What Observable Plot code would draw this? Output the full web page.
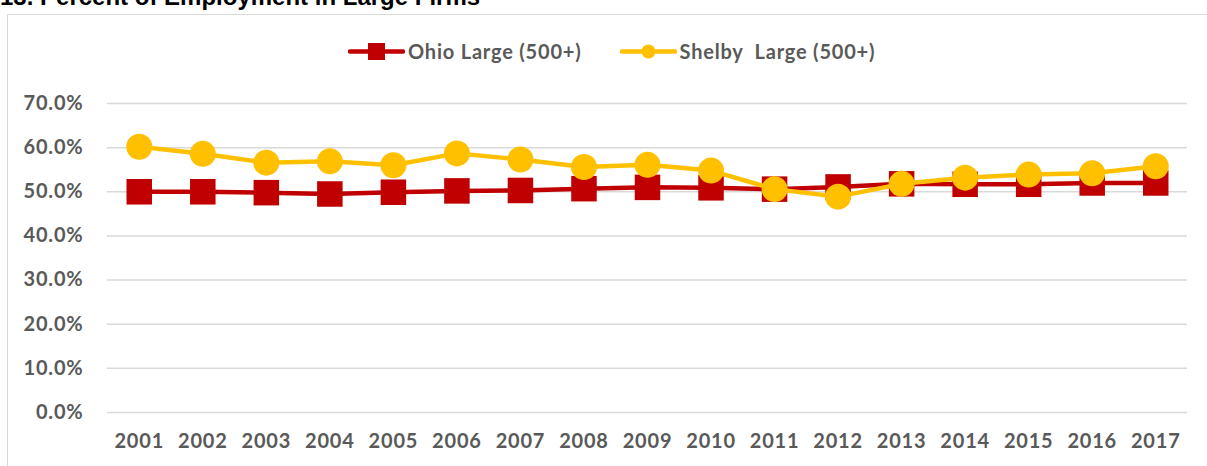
<!DOCTYPE html>
<html>
<head>
<meta charset="utf-8">
<script src="https://cdn.jsdelivr.net/npm/d3@7"></script>
<script src="https://cdn.jsdelivr.net/npm/@observablehq/plot@0.6"></script>
<style>
  html, body { margin: 0; padding: 0; background: #fff; overflow: hidden; }
  body { width: 1207px; height: 466px; position: relative; font-family: Lato, sans-serif; }
  #title { position: absolute; left: 0; top: -15px; font: bold 24px "Liberation Sans", Arial, sans-serif; line-height: 24px; color: #000; white-space: nowrap; }
  #frame { position: absolute; left: 7px; top: 14px; width: 1210px; height: 470px; border: 1px solid #d9d9d9; box-sizing: border-box; }
  #legend { position: absolute; top: 39px; left: 348px; display: flex; align-items: center; font: bold 20px Lato, sans-serif; letter-spacing: 0.8px; color: #595959; white-space: pre; }
  #legend .item { display: flex; align-items: center; }
  #legend svg { display: block; }
  #chart { position: absolute; left: 0; top: 0; }
  #chart text { letter-spacing: 0.8px; }
</style>
</head>
<body>
<div id="title">13. Percent of Employment in Large Firms</div>
<div id="frame"></div>
<div id="chart"></div>
<div id="legend"></div>
<script>
const years = [2001, 2002, 2003, 2004, 2005, 2006, 2007, 2008, 2009, 2010, 2011, 2012, 2013, 2014, 2015, 2016, 2017];
const ohioLarge = [50.0, 50.0, 49.8, 49.5, 49.9, 50.2, 50.3, 50.7, 51.0, 50.9, 50.6, 51.1, 51.8, 51.7, 51.7, 52.0, 52.0];
const shelbyLarge = [60.2, 58.6, 56.6, 56.9, 56.0, 58.7, 57.3, 55.6, 56.1, 54.8, 50.6, 48.9, 51.8, 53.2, 53.9, 54.2, 55.8];
const seriesNames = ["Ohio Large (500+)", "Shelby  Large (500+)"];
const seriesColors = ["#C00000", "#FFC000"];
const yTicks = [0, 10, 20, 30, 40, 50, 60, 70];

const ohio = years.map((y, i) => ({year: String(y), value: ohioLarge[i] / 100}));
const shelby = years.map((y, i) => ({year: String(y), value: shelbyLarge[i] / 100}));

const chart = Plot.plot({
  width: 1207,
  height: 466,
  marginLeft: 107,
  marginRight: 20,
  marginTop: 103,
  marginBottom: 54,
  style: {fontFamily: "Lato, sans-serif", fontWeight: "bold", fontSize: "20px", color: "#595959", background: "transparent", overflow: "visible"},
  x: {type: "point", domain: years.map(String), padding: 0.5, round: false, label: null},
  y: {domain: [0, 0.7], label: null},
  marks: [
    Plot.ruleY(yTicks.map(d => d / 100), {stroke: "#d9d9d9", strokeWidth: 1.5}),
    Plot.axisY(yTicks.map(d => d / 100), {tickSize: 0, tickPadding: 24, tickFormat: d => (d * 100).toFixed(1) + "%", label: null, fill: "#595959"}),
    Plot.axisX({tickSize: 0, tickPadding: 21, label: null, fill: "#595959"}),
    Plot.line(ohio, {x: "year", y: "value", stroke: seriesColors[0], strokeWidth: 4.5}),
    Plot.dot(ohio, {x: "year", y: "value", symbol: "square", r: 14.4, fill: seriesColors[0]}),
    Plot.line(shelby, {x: "year", y: "value", stroke: seriesColors[1], strokeWidth: 4.5}),
    Plot.dot(shelby, {x: "year", y: "value", symbol: "circle", r: 13, fill: seriesColors[1]})
  ]
});
document.getElementById("chart").appendChild(chart);

// Legend
const legend = document.getElementById("legend");
seriesNames.forEach((name, i) => {
  const item = document.createElement("div");
  item.className = "item";
  if (i > 0) item.style.marginLeft = "38px";
  const marker = i === 0
    ? `<rect x="20" y="1" width="17" height="17" fill="${seriesColors[i]}"/>`
    : `<circle cx="28.5" cy="9.5" r="7" fill="${seriesColors[i]}"/>`;
  item.innerHTML = `<svg width="57" height="19"><line x1="2" x2="55" y1="9.5" y2="9.5" stroke="${seriesColors[i]}" stroke-width="4.5" stroke-linecap="round"/>${marker}</svg><span style="margin-left:3px">${name}</span>`;
  legend.appendChild(item);
});
</script>
</body>
</html>
